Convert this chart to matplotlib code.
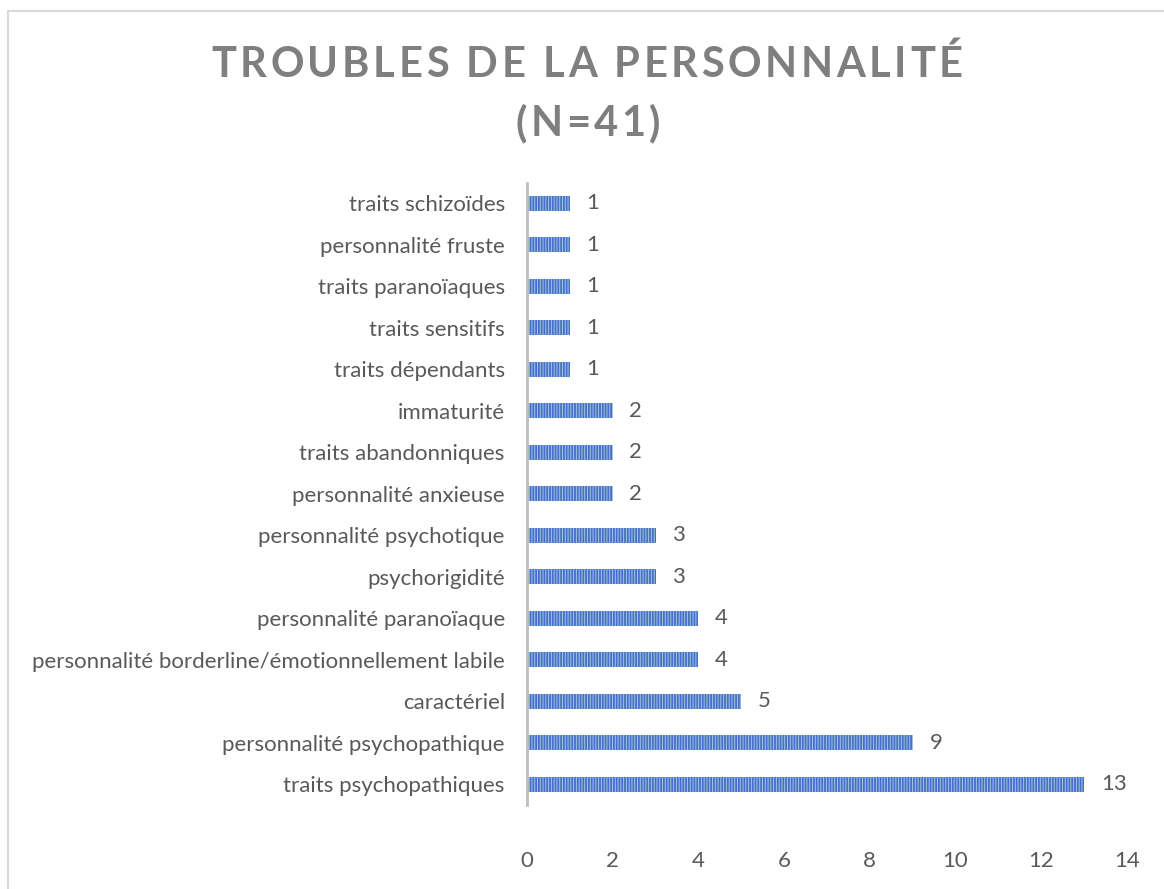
import matplotlib
matplotlib.use("Agg")
import matplotlib.pyplot as plt
from matplotlib.patches import Rectangle

plt.rcParams['font.family'] = ['Lato', 'DejaVu Sans']
plt.rcParams['hatch.linewidth'] = 0.7
plt.rcParams['hatch.color'] = '#A9C2EA'

categories = [
    "traits psychopathiques",
    "personnalité psychopathique",
    "caractériel",
    "personnalité borderline/émotionnellement labile",
    "personnalité paranoïaque",
    "psychorigidité",
    "personnalité psychotique",
    "personnalité anxieuse",
    "traits abandonniques",
    "immaturité",
    "traits dépendants",
    "traits sensitifs",
    "traits paranoïaques",
    "personnalité fruste",
    "traits schizoïdes",
]
values = [13, 9, 5, 4, 4, 3, 3, 2, 2, 2, 1, 1, 1, 1, 1]
xticks = [0, 2, 4, 6, 8, 10, 12, 14]
title_lines = ["TROUBLES DE LA PERSONNALITÉ", "(N=41)"]

W, H = 1164, 889
fig = plt.figure(figsize=(W / 100, H / 100), dpi=100)
ax = fig.add_axes([527 / W, 1 - 805 / H, 600 / W, 622.5 / H])

TXT = '#595959'
FS = 16
ypos = list(range(len(categories)))
bars = ax.barh(ypos, values, height=0.36, color='#4472C4', edgecolor='#A9C2EA',
               linewidth=0, hatch='||||||', zorder=2)
ax.set_ylim(-0.5, len(categories) - 0.5)
ax.set_xlim(0, 14)
ax.set_yticks(ypos)
ax.set_yticklabels(categories, fontsize=FS, color=TXT)
ax.set_xticks(xticks)
ax.set_xticklabels([str(t) for t in xticks], fontsize=FS, color=TXT)
ax.tick_params(axis='y', length=0, pad=16)
ax.tick_params(axis='x', length=0, pad=33)
for s in ['top', 'right', 'bottom']:
    ax.spines[s].set_visible(False)
ax.spines['left'].set_color('#BFBFBF')
ax.spines['left'].set_linewidth(2)
ax.spines['left'].set_zorder(3)

for b, v in zip(bars, values):
    ax.annotate(str(v), (b.get_width(), b.get_y() + b.get_height() / 2),
                xytext=(12, 0), textcoords='offset points', va='center', ha='left',
                fontsize=FS, color=TXT)

# figure border
fig.patches.append(Rectangle((8 / W, -0.1), 2, (H - 11) / H + 0.1, transform=fig.transFigure,
                             fill=False, edgecolor='#D9D9D9', linewidth=1.5))

# letter-spaced title
renderer = fig.canvas.get_renderer()
tkw = dict(fontsize=30, fontweight='bold', color='#7F7F7F')

def char_width(ch):
    if ch == ' ':
        t1 = fig.text(0, 0, 'a a', **tkw)
        t2 = fig.text(0, 0, 'aa', **tkw)
        w = t1.get_window_extent(renderer).width - t2.get_window_extent(renderer).width
        t1.remove(); t2.remove()
        return w
    t = fig.text(0, 0, ch, **tkw)
    w = t.get_window_extent(renderer).width
    t.remove()
    return w

def spaced(s, xc_px, base_px, spacing):
    widths = [char_width(c) for c in s]
    total = sum(widths) + spacing * (len(s) - 1)
    x = xc_px - total / 2
    for c, w in zip(s, widths):
        fig.text(x / W, 1 - base_px / H, c, ha='left', va='baseline', **tkw)
        x += w + spacing

spaced(title_lines[0], 587, 77, 3.6)
spaced(title_lines[1], 588, 136, 3.6)

fig.savefig('out.png', dpi=100, facecolor='white')
